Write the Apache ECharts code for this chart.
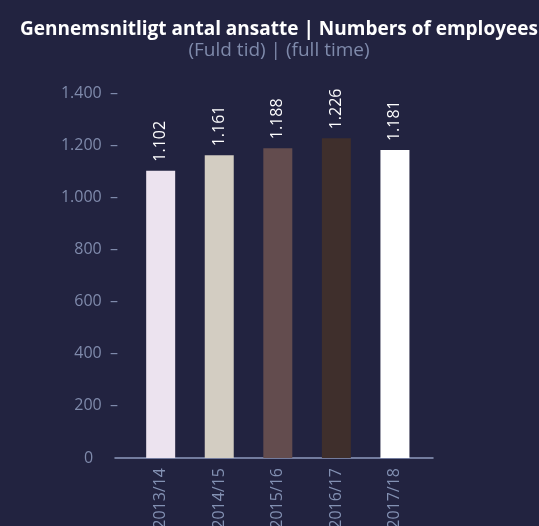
<!DOCTYPE html>
<html>
<head>
<meta charset="utf-8">
<script src="https://cdn.jsdelivr.net/npm/echarts@6/dist/echarts.min.js"></script>
<style>
  html, body { margin: 0; padding: 0; background: #222340; }
  #chart { width: 539px; height: 526px; }
</style>
</head>
<body>
<div id="chart"></div>
<script>
// Years and average full-time employees
const years = ['2013/14', '2014/15', '2015/16', '2016/17', '2017/18'];
const employees = [1102, 1161, 1188, 1226, 1181];
const barColors = ['#ece3ef', '#d3cdc2', '#634c4e', '#3f2f2c', '#ffffff'];

// Danish thousands separator
function fmt(v) {
    return String(v).replace(/\B(?=(\d{3})+(?!\d))/g, '.');
}

const chart = echarts.init(document.getElementById('chart'));

const option = {
    backgroundColor: '#222340',
    title: {
        text: 'Gennemsnitligt antal ansatte | Numbers of employees',
        subtext: '(Fuld tid) | (full time)',
        left: 274,
        textAlign: 'center',
        top: 15,
        itemGap: 2,
        textStyle: {
            color: '#ffffff',
            fontFamily: 'Open Sans',
            fontWeight: 'bold',
            fontSize: 19
        },
        subtextStyle: {
            color: '#7f8aab',
            fontFamily: 'Open Sans',
            fontSize: 19
        }
    },
    grid: {
        left: 115,
        right: 106,
        top: 93,
        bottom: 68,
        outerBoundsMode: 'none'
    },
    xAxis: {
        type: 'value',
        min: -0.78,
        max: 4.65,
        splitLine: { show: false },
        axisLine: { show: true, lineStyle: { color: '#8e9bbd', width: 1.5 } },
        axisTick: { show: false },
        axisLabel: {
            customValues: [0, 1, 2, 3, 4],
            rotate: 90,
            margin: 10,
            color: '#8391b3',
            fontFamily: 'Open Sans',
            fontSize: 16,
            formatter: v => years[Math.round(v)]
        }
    },
    yAxis: {
        type: 'value',
        min: 0,
        max: 1400,
        interval: 200,
        axisLine: { show: false },
        axisTick: { show: false },
        splitLine: { show: false },
        axisLabel: {
            margin: -3,
            color: '#7f8aab',
            fontFamily: 'Open Sans',
            fontSize: 16,
            formatter: v => (v === 0 ? '0      ' : fmt(v) + '  \u2013')
        }
    },
    series: [{
        type: 'bar',
        barWidth: 29,
        data: employees.map((v, i) => ({
            value: [i, v],
            itemStyle: { color: barColors[i] }
        })),
        label: {
            show: true,
            position: 'top',
            rotate: 90,
            align: 'left',
            verticalAlign: 'middle',
            distance: 9,
            color: '#ffffff',
            fontFamily: 'Open Sans',
            fontSize: 16,
            formatter: p => fmt(p.value[1])
        }
    }]
};

chart.setOption(option);
</script>
</body>
</html>
